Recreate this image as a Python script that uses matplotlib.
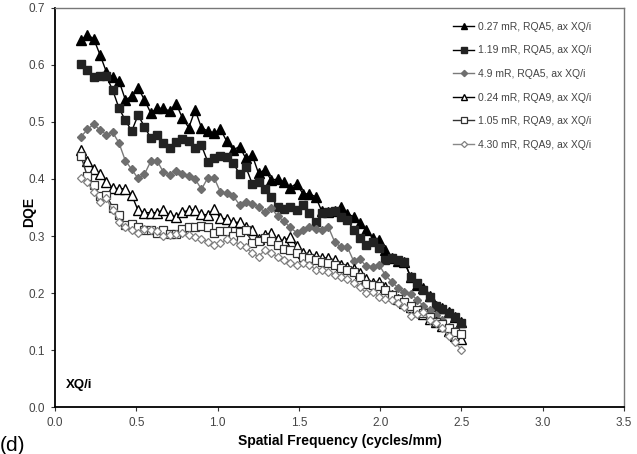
import numpy as np
import matplotlib
matplotlib.use("Agg")
import matplotlib.pyplot as plt

plt.rcParams['font.family'] = ['Liberation Sans', 'DejaVu Sans']

# spatial frequency grid (cycles/mm)
freq = [0.160, 0.199, 0.238, 0.277, 0.316, 0.355, 0.394, 0.433, 0.472, 0.511,
        0.550, 0.589, 0.628, 0.667, 0.706, 0.745, 0.784, 0.823, 0.862, 0.901,
        0.940, 0.979, 1.018, 1.057, 1.096, 1.135, 1.174, 1.213, 1.252, 1.291,
        1.330, 1.369, 1.408, 1.447, 1.486, 1.525, 1.564, 1.603, 1.642, 1.681,
        1.720, 1.759, 1.798, 1.837, 1.876, 1.915, 1.954, 1.993, 2.032, 2.071,
        2.110, 2.149, 2.188, 2.227, 2.266, 2.305, 2.344, 2.383, 2.422, 2.461,
        2.500]

dqe_027_rqa5 = [0.644, 0.653, 0.646, 0.618, 0.588, 0.579, 0.572, 0.539, 0.545, 0.560,
                0.539, 0.516, 0.524, 0.524, 0.519, 0.532, 0.507, 0.490, 0.521, 0.490,
                0.484, 0.481, 0.487, 0.466, 0.451, 0.457, 0.436, 0.442, 0.410, 0.416,
                0.398, 0.400, 0.395, 0.385, 0.392, 0.374, 0.374, 0.369, 0.343, 0.342,
                0.344, 0.351, 0.339, 0.334, 0.323, 0.311, 0.296, 0.293, 0.275, 0.261,
                0.256, 0.255, 0.228, 0.214, 0.209, 0.194, 0.177, 0.173, 0.167, 0.158,
                0.149]
dqe_119_rqa5 = [0.601, 0.591, 0.579, 0.580, 0.580, 0.556, 0.524, 0.503, 0.484, 0.512,
                0.492, 0.472, 0.477, 0.464, 0.455, 0.465, 0.471, 0.466, 0.454, 0.459,
                0.430, 0.436, 0.440, 0.439, 0.428, 0.409, 0.421, 0.392, 0.394, 0.383,
                0.369, 0.351, 0.348, 0.351, 0.346, 0.354, 0.341, 0.325, 0.340, 0.342,
                0.343, 0.334, 0.328, 0.311, 0.297, 0.285, 0.290, 0.279, 0.258, 0.261,
                0.258, 0.255, 0.228, 0.217, 0.206, 0.193, 0.178, 0.172, 0.165, 0.158,
                0.148]
dqe_49_rqa5 = [0.474, 0.487, 0.496, 0.486, 0.478, 0.482, 0.463, 0.432, 0.417, 0.401,
               0.408, 0.431, 0.432, 0.412, 0.407, 0.414, 0.408, 0.405, 0.400, 0.382,
               0.402, 0.402, 0.377, 0.375, 0.370, 0.355, 0.359, 0.356, 0.351, 0.342,
               0.349, 0.335, 0.326, 0.315, 0.306, 0.311, 0.315, 0.312, 0.311, 0.316,
               0.290, 0.280, 0.281, 0.256, 0.259, 0.247, 0.246, 0.250, 0.231, 0.220,
               0.209, 0.201, 0.199, 0.188, 0.178, 0.170, 0.161, 0.152, 0.141, 0.133,
               0.126]
dqe_024_rqa9 = [0.451, 0.432, 0.418, 0.408, 0.394, 0.384, 0.383, 0.383, 0.372, 0.345,
                0.341, 0.341, 0.341, 0.346, 0.336, 0.334, 0.342, 0.345, 0.346, 0.338,
                0.337, 0.348, 0.331, 0.330, 0.324, 0.324, 0.316, 0.311, 0.295, 0.302,
                0.305, 0.295, 0.291, 0.299, 0.282, 0.271, 0.268, 0.265, 0.262, 0.261,
                0.258, 0.249, 0.246, 0.242, 0.235, 0.225, 0.218, 0.220, 0.211, 0.196,
                0.190, 0.182, 0.175, 0.169, 0.163, 0.155, 0.149, 0.142, 0.133, 0.124,
                0.120]
dqe_105_rqa9 = [0.440, 0.405, 0.390, 0.370, 0.372, 0.350, 0.337, 0.320, 0.321, 0.316,
                0.311, 0.310, 0.306, 0.311, 0.303, 0.304, 0.312, 0.316, 0.315, 0.318,
                0.315, 0.305, 0.308, 0.308, 0.300, 0.307, 0.310, 0.288, 0.292, 0.296,
                0.291, 0.284, 0.277, 0.275, 0.270, 0.264, 0.262, 0.258, 0.255, 0.252,
                0.249, 0.243, 0.240, 0.236, 0.228, 0.216, 0.214, 0.212, 0.205, 0.196,
                0.190, 0.184, 0.177, 0.171, 0.165, 0.158, 0.150, 0.145, 0.138, 0.131,
                0.128]
dqe_430_rqa9 = [0.401, 0.394, 0.378, 0.360, 0.366, 0.345, 0.325, 0.316, 0.310, 0.306,
                0.313, 0.311, 0.308, 0.300, 0.301, 0.304, 0.305, 0.302, 0.298, 0.295,
                0.290, 0.285, 0.288, 0.294, 0.292, 0.285, 0.280, 0.270, 0.264, 0.275,
                0.270, 0.264, 0.258, 0.252, 0.249, 0.253, 0.250, 0.241, 0.240, 0.236,
                0.232, 0.228, 0.225, 0.218, 0.210, 0.200, 0.202, 0.193, 0.190, 0.188,
                0.183, 0.176, 0.160, 0.163, 0.167, 0.152, 0.147, 0.138, 0.124, 0.114,
                0.100]

labels = ["0.27 mR, RQA5, ax XQ/i", "1.19 mR, RQA5, ax XQ/i", "4.9 mR, RQA5, ax XQ/i",
          "0.24 mR, RQA9, ax XQ/i", "1.05 mR, RQA9, ax XQ/i", "4.30 mR, RQA9, ax XQ/i"]

fig = plt.figure(figsize=(6.37, 4.54), dpi=100)
ax = fig.add_axes([0.0863, 0.1035, 0.8933, 0.8789])

ax.plot(freq, dqe_027_rqa5, color="black", lw=1, marker="^", ms=6.5,
        mfc="black", mec="black", label=labels[0])
ax.plot(freq, dqe_119_rqa5, color="black", lw=1, marker="s", ms=5.5,
        mfc="#222222", mec="#222222", label=labels[1])
ax.plot(freq, dqe_49_rqa5, color="#7a7a7a", lw=1, marker="D", ms=4.5,
        mfc="#6e6e6e", mec="#6e6e6e", label=labels[2])
ax.plot(freq, dqe_024_rqa9, color="black", lw=1, marker="^", ms=6.5,
        mfc="white", mec="black", mew=1, label=labels[3])
ax.plot(freq, dqe_105_rqa9, color="#333333", lw=1, marker="s", ms=5.5,
        mfc="white", mec="#333333", mew=0.9, label=labels[4])
ax.plot(freq, dqe_430_rqa9, color="#888888", lw=1, marker="D", ms=4.5,
        mfc="white", mec="#808080", mew=0.9, label=labels[5])

ax.set_xlim(0, 3.5)
ax.set_ylim(0, 0.7)
ax.set_xticks(np.arange(0, 3.51, 0.5))
ax.set_yticks(np.arange(0, 0.71, 0.1))
ax.xaxis.set_major_formatter(plt.FormatStrFormatter('%.1f'))
ax.yaxis.set_major_formatter(plt.FormatStrFormatter('%.1f'))
ax.tick_params(labelsize=8.5, labelcolor="#444444", length=3, width=0.8,
               direction="out", color="#333333")
ax.tick_params(axis="x", pad=4)
ax.tick_params(axis="y", pad=4)

for side in ["left", "bottom"]:
    ax.spines[side].set_color("black")
    ax.spines[side].set_linewidth(1.3)
for side in ["top", "right"]:
    ax.spines[side].set_color("#777777")
    ax.spines[side].set_linewidth(1.0)

ax.set_xlabel("Spatial Frequency (cycles/mm)", fontsize=10, fontweight="bold", labelpad=4)
ax.set_ylabel("DQE", fontsize=10, fontweight="bold")
ax.yaxis.set_label_coords(-0.034, 0.49)

ax.text(0.07, 0.034, "XQ/i", fontsize=9.5, fontweight="bold")

leg = ax.legend(loc="upper left", bbox_to_anchor=(0.70, 0.965), frameon=False,
                fontsize=7.5, labelspacing=1.3, handlelength=2.0,
                handletextpad=0.4, borderpad=0, borderaxespad=0, markerscale=0.7)
for t in leg.get_texts():
    t.set_color("#444444")

fig.text(0.0, 0.04, "(d)", fontsize=15, va="top", ha="left")

fig.savefig("out.png", dpi=100)
